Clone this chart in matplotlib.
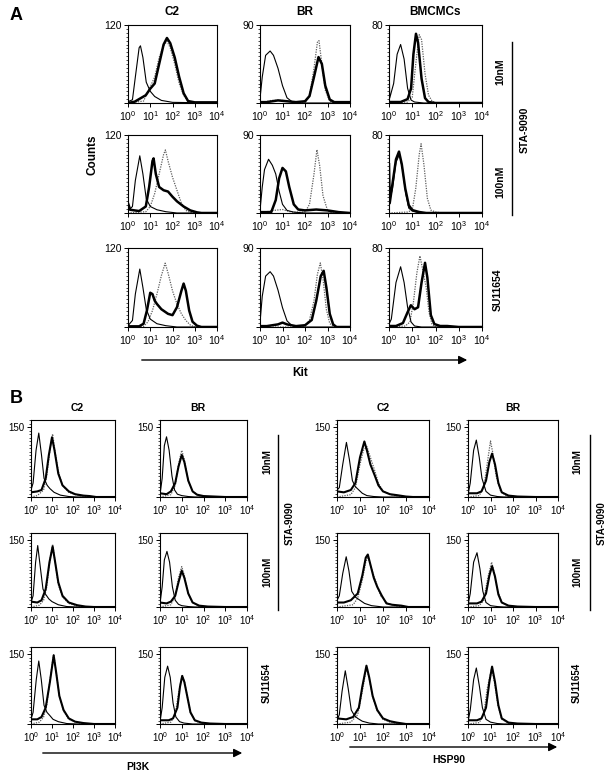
import numpy as np
import matplotlib
matplotlib.use("Agg")
import matplotlib.pyplot as plt
from matplotlib.ticker import LogLocator, NullFormatter, MultipleLocator, FixedLocator
from matplotlib.lines import Line2D
from matplotlib.patches import FancyArrowPatch

plt.rcParams['font.family'] = ['Liberation Sans', 'DejaVu Sans']
plt.rcParams['mathtext.fontset'] = 'custom'
plt.rcParams['mathtext.rm'] = 'Liberation Sans'

# histogram outlines: (log10 fluorescence, counts)
# iso = thin line, ctrl = dotted (untreated), drug = thick (treated)

# ---- A: Kit ----
a_c2_10 = dict(
    iso=[(0,2),(0.2,5),(0.33,40),(0.5,85),(0.56,88),(0.67,70),(0.82,32),(1.0,18),(1.2,10),(1.5,4),(2.0,1),(4,0)],
    ctrl=[(0,0),(0.7,3),(0.9,18),(1.0,25),(1.2,40),(1.4,70),(1.6,88),(1.75,95),(1.9,85),(2.1,60),(2.3,30),(2.5,12),(2.7,3),(3,0),(4,0)],
    drug=[(0,0),(0.3,2),(0.8,12),(1.0,22),(1.2,30),(1.4,60),(1.6,90),(1.75,100),(1.9,92),(2.1,70),(2.3,40),(2.5,15),(2.7,3),(3.0,1),(4,1)])
a_br_10 = dict(
    iso=[(0,5),(0.1,30),(0.25,55),(0.45,60),(0.6,55),(0.8,40),(1.0,20),(1.2,6),(1.4,2),(1.6,0),(4,0)],
    ctrl=[(0,0),(0.5,3),(1.0,3),(1.5,1),(2.0,0),(2.2,8),(2.4,40),(2.55,70),(2.62,72),(2.75,45),(2.9,15),(3.1,2),(3.3,0),(4,0)],
    drug=[(0,1),(0.3,1),(0.8,3),(1.2,2),(1.6,1),(2.0,2),(2.2,8),(2.4,30),(2.6,53),(2.75,45),(2.9,20),(3.1,4),(3.3,1),(4,1)])
a_bm_10 = dict(
    iso=[(0,52),(0.03,5),(0.2,20),(0.35,50),(0.5,60),(0.65,45),(0.8,15),(0.95,3),(1.1,1),(1.5,0),(4,0)],
    ctrl=[(0,0),(0.8,1),(1.0,6),(1.15,40),(1.3,70),(1.4,65),(1.55,30),(1.7,8),(1.85,2),(2,0),(4,0)],
    drug=[(0,1),(0.5,1),(0.8,4),(0.95,15),(1.05,50),(1.16,71),(1.25,62),(1.4,25),(1.55,5),(1.7,1),(2,0),(4,0)])
a_c2_100 = dict(
    iso=[(0,3),(0.2,10),(0.33,50),(0.53,88),(0.67,60),(0.82,22),(1.0,10),(1.3,5),(1.7,2),(2.2,0),(4,0)],
    ctrl=[(0,0),(0.8,2),(1.0,10),(1.2,30),(1.4,60),(1.6,90),(1.68,97),(1.8,80),(2.0,55),(2.2,35),(2.4,15),(2.6,4),(2.8,1),(3,0),(4,0)],
    drug=[(0,15),(0.1,5),(0.5,3),(0.8,10),(0.95,40),(1.1,80),(1.15,84),(1.25,60),(1.4,40),(1.6,35),(1.8,33),(2.0,25),(2.2,18),(2.5,10),(2.8,4),(3.1,1),(3.3,0),(4,0)])
a_br_100 = dict(
    iso=[(0,3),(0.1,30),(0.2,50),(0.38,62),(0.55,55),(0.7,45),(0.85,25),(1.0,10),(1.2,3),(1.5,1),(2,0),(4,0)],
    ctrl=[(0,0),(0.6,3),(1.0,4),(1.4,1),(2.0,1),(2.2,10),(2.4,45),(2.53,73),(2.65,55),(2.8,20),(3.0,3),(3.2,0),(4,0)],
    drug=[(0,1),(0.5,1),(0.7,15),(0.85,40),(1.0,52),(1.15,48),(1.3,30),(1.5,10),(1.7,4),(2.0,3),(2.5,4),(3.0,3),(3.5,1),(4,0)])
a_bm_100 = dict(
    iso=[(0,10),(0.15,25),(0.3,52),(0.45,60),(0.58,45),(0.72,20),(0.85,5),(1.0,2),(1.3,0),(4,0)],
    ctrl=[(0,0),(0.8,1),(1.0,3),(1.15,25),(1.3,60),(1.38,71),(1.5,50),(1.65,15),(1.8,3),(2.0,1),(2.3,0),(4,0)],
    drug=[(0,50),(0.03,10),(0.15,30),(0.3,55),(0.43,63),(0.55,50),(0.7,25),(0.85,8),(1.0,3),(1.3,1),(1.6,0),(4,0)])
a_c2_su = dict(
    iso=[(0,2),(0.2,10),(0.33,50),(0.53,88),(0.67,60),(0.82,27),(1.0,12),(1.3,5),(1.7,2),(2.2,0),(4,0)],
    ctrl=[(0,0),(0.7,1),(0.9,8),(1.1,25),(1.3,50),(1.5,78),(1.67,97),(1.8,82),(2.0,55),(2.2,35),(2.4,20),(2.6,10),(2.8,3),(3.0,0),(4,0)],
    drug=[(0,1),(0.5,1),(0.7,5),(0.85,25),(1.0,52),(1.1,50),(1.2,40),(1.3,35),(1.5,27),(1.8,20),(2.0,18),(2.2,30),(2.4,55),(2.5,66),(2.6,55),(2.75,25),(2.9,8),(3.1,2),(3.3,0),(4,0)])
a_br_su = dict(
    iso=[(0,5),(0.1,35),(0.25,58),(0.45,63),(0.6,58),(0.8,42),(1.0,22),(1.2,7),(1.4,2),(1.6,0),(4,0)],
    ctrl=[(0,0),(1.5,0),(2.0,1),(2.2,8),(2.4,30),(2.55,60),(2.68,73),(2.8,55),(2.95,20),(3.1,4),(3.3,0),(4,0)],
    drug=[(0,1),(0.3,1),(0.8,3),(1.0,5),(1.2,3),(1.6,1),(2.0,2),(2.3,8),(2.5,30),(2.7,58),(2.83,64),(2.95,45),(3.1,15),(3.25,3),(3.4,0),(4,0)])
a_bm_su = dict(
    iso=[(0,3),(0.1,8),(0.3,45),(0.5,61),(0.65,45),(0.8,20),(0.95,5),(1.1,1),(1.4,0),(4,0)],
    ctrl=[(0,0),(0.7,1),(0.9,5),(1.05,25),(1.2,55),(1.33,72),(1.45,58),(1.6,40),(1.72,15),(1.85,3),(2.0,0),(4,0)],
    drug=[(0,1),(0.3,1),(0.6,4),(0.8,15),(0.94,22),(1.1,18),(1.25,20),(1.4,45),(1.55,65),(1.65,50),(1.8,12),(1.95,3),(2.2,1),(2.5,1),(3.0,0),(4,0)])

# ---- B: PI3K (left) and HSP90 (right) ----
b_pi_c2_10 = dict(
    iso=[(0,15),(0.1,30),(0.24,100),(0.37,137),(0.5,90),(0.62,40),(0.77,25),(0.9,18),(1.1,10),(1.4,4),(1.8,1),(2.2,0),(4,0)],
    ctrl=[(0,0),(0.3,3),(0.6,15),(0.75,45),(0.9,100),(1.03,135),(1.15,95),(1.3,55),(1.5,25),(1.8,10),(2.2,4),(2.6,1),(3,0),(4,0)],
    drug=[(0,10),(0.3,12),(0.5,15),(0.7,40),(0.85,90),(1.0,128),(1.12,100),(1.3,50),(1.5,25),(1.8,12),(2.1,6),(2.5,3),(2.8,2),(3.1,0),(4,0)])
b_pi_br_10 = dict(
    iso=[(0,5),(0.1,40),(0.2,110),(0.3,129),(0.42,100),(0.55,45),(0.67,15),(0.8,6),(1.0,3),(1.3,1),(1.6,0),(4,0)],
    ctrl=[(0,0),(0.5,5),(0.7,25),(0.85,70),(1.0,100),(1.12,80),(1.3,35),(1.5,12),(1.8,3),(2.2,0),(4,0)],
    drug=[(0,8),(0.3,6),(0.5,12),(0.7,30),(0.85,65),(1.0,90),(1.12,75),(1.3,35),(1.5,12),(1.7,5),(2.0,2),(2.5,1),(3,0),(4,0)])
b_hs_c2_10 = dict(
    iso=[(0,15),(0.1,20),(0.25,70),(0.41,117),(0.54,80),(0.67,35),(0.8,22),(0.95,15),(1.1,8),(1.3,3),(1.6,1),(2,0),(4,0)],
    ctrl=[(0,0),(0.6,5),(0.8,20),(1.0,70),(1.15,100),(1.3,108),(1.45,85),(1.65,55),(1.8,30),(2.0,12),(2.4,4),(3,0),(4,0)],
    drug=[(0,12),(0.3,10),(0.6,15),(0.8,30),(1.0,85),(1.19,119),(1.3,100),(1.45,70),(1.65,45),(1.8,25),(2.0,12),(2.3,6),(2.6,4),(3.0,1),(3.3,0),(4,0)])
b_hs_br_10 = dict(
    iso=[(0,5),(0.1,30),(0.25,100),(0.37,122),(0.5,85),(0.62,40),(0.8,12),(1.0,4),(1.3,1),(1.6,0),(4,0)],
    ctrl=[(0,0),(0.5,3),(0.7,20),(0.85,70),(1.0,120),(1.1,95),(1.25,45),(1.45,12),(1.7,3),(2,0),(4,0)],
    drug=[(0,8),(0.4,8),(0.6,12),(0.8,35),(0.95,75),(1.07,93),(1.2,70),(1.35,30),(1.5,10),(1.8,3),(2.2,1),(3,0),(4,0)])
b_pi_c2_100 = dict(
    iso=[(0,10),(0.1,25),(0.22,100),(0.32,137),(0.44,90),(0.57,40),(0.7,28),(0.85,18),(1.0,12),(1.3,5),(1.7,1),(2.2,0),(4,0)],
    ctrl=[(0,0),(0.4,4),(0.6,15),(0.75,45),(0.9,105),(1.03,140),(1.15,100),(1.3,50),(1.5,22),(1.8,8),(2.2,2),(2.6,0),(4,0)],
    drug=[(0,12),(0.3,10),(0.5,15),(0.7,40),(0.88,100),(1.03,135),(1.15,100),(1.3,55),(1.5,25),(1.8,10),(2.2,4),(2.6,1),(3,0),(4,0)])
b_pi_br_100 = dict(
    iso=[(0,8),(0.1,45),(0.2,105),(0.32,124),(0.44,100),(0.57,45),(0.7,15),(0.85,6),(1.0,3),(1.3,1),(1.6,0),(4,0)],
    ctrl=[(0,0),(0.5,5),(0.7,25),(0.85,65),(1.0,90),(1.12,70),(1.3,30),(1.5,10),(1.8,2),(2.2,0),(4,0)],
    drug=[(0,10),(0.3,8),(0.5,12),(0.7,25),(0.85,55),(1.0,81),(1.12,65),(1.3,30),(1.5,10),(1.8,3),(2.2,1),(3,0),(4,0)])
b_hs_c2_100 = dict(
    iso=[(0,15),(0.1,25),(0.25,75),(0.4,112),(0.52,80),(0.64,35),(0.8,22),(1.0,15),(1.2,8),(1.5,3),(2,0),(4,0)],
    ctrl=[(0,0),(0.7,5),(0.9,20),(1.1,60),(1.25,100),(1.35,112),(1.5,85),(1.7,55),(1.9,25),(2.2,8),(2.6,2),(3,0),(4,0)],
    drug=[(0,10),(0.3,10),(0.6,15),(0.9,30),(1.1,70),(1.25,110),(1.34,117),(1.45,95),(1.6,65),(1.75,45),(1.95,25),(2.15,8),(2.4,5),(2.8,3),(3.1,0),(4,0)])
b_hs_br_100 = dict(
    iso=[(0,5),(0.1,30),(0.25,100),(0.4,121),(0.53,85),(0.66,35),(0.8,10),(1.0,3),(1.3,1),(1.6,0),(4,0)],
    ctrl=[(0,0),(0.5,3),(0.7,15),(0.88,65),(1.05,100),(1.15,80),(1.3,40),(1.5,10),(1.8,2),(2.1,0),(4,0)],
    drug=[(0,8),(0.4,8),(0.6,12),(0.8,30),(0.95,70),(1.07,91),(1.2,68),(1.35,28),(1.5,10),(1.8,3),(2.2,1),(3,0),(4,0)])
b_pi_c2_su = dict(
    iso=[(0,10),(0.1,25),(0.25,95),(0.37,135),(0.49,95),(0.62,40),(0.76,25),(0.9,18),(1.05,10),(1.3,5),(1.7,1),(2.2,0),(4,0)],
    ctrl=[(0,0),(0.4,4),(0.6,15),(0.75,40),(0.92,100),(1.08,150),(1.2,110),(1.35,60),(1.55,28),(1.8,10),(2.2,3),(2.6,0),(4,0)],
    drug=[(0,10),(0.3,10),(0.5,15),(0.7,35),(0.9,90),(1.08,147),(1.2,110),(1.35,60),(1.55,30),(1.8,12),(2.1,5),(2.5,2),(3,0),(4,0)])
b_pi_br_su = dict(
    iso=[(0,5),(0.1,35),(0.22,100),(0.35,124),(0.47,100),(0.6,45),(0.73,15),(0.9,5),(1.1,2),(1.5,0),(4,0)],
    ctrl=[(0,0),(0.5,4),(0.7,20),(0.85,65),(1.02,105),(1.12,92),(1.25,60),(1.4,25),(1.6,7),(1.9,2),(2.3,0),(4,0)],
    drug=[(0,8),(0.4,8),(0.6,12),(0.8,35),(0.92,80),(1.02,103),(1.12,90),(1.25,60),(1.4,25),(1.6,8),(1.9,3),(2.3,1),(3,0),(4,0)])
b_hs_c2_su = dict(
    iso=[(0,8),(0.1,20),(0.22,70),(0.36,114),(0.49,75),(0.62,30),(0.76,18),(0.9,12),(1.1,6),(1.4,2),(1.8,0),(4,0)],
    ctrl=[(0,0),(0.6,4),(0.9,20),(1.1,70),(1.28,120),(1.4,98),(1.55,58),(1.75,28),(2.0,10),(2.3,4),(2.7,1),(3,0),(4,0)],
    drug=[(0,12),(0.4,10),(0.7,15),(0.95,35),(1.1,80),(1.28,125),(1.4,100),(1.55,60),(1.75,30),(2.0,12),(2.3,6),(2.6,3),(3,0),(4,0)])
b_hs_br_su = dict(
    iso=[(0,5),(0.1,30),(0.25,95),(0.37,120),(0.51,80),(0.64,35),(0.8,10),(1.0,4),(1.3,1),(1.6,0),(4,0)],
    ctrl=[(0,0),(0.5,3),(0.7,20),(0.85,75),(1.05,120),(1.18,88),(1.33,40),(1.5,10),(1.8,2),(2.1,0),(4,0)],
    drug=[(0,8),(0.4,8),(0.6,12),(0.8,35),(0.95,90),(1.07,123),(1.2,90),(1.35,40),(1.5,12),(1.8,3),(2.2,1),(3,0),(4,0)])

a_ymax = {'C2': 120, 'BR': 90, 'BMCMCs': 80}
b_ymax = 150

W, H = 615, 779
fig = plt.figure(figsize=(W / 100, H / 100), dpi=100)


def box(l, t, r, b):
    return [l / W, 1 - b / H, (r - l) / W, (b - t) / H]


def ftext(x, y, s, **kw):
    fig.text(x / W, 1 - y / H, s, ha='center', va='center', **kw)


def arrow(x0, x1, y):
    fig.add_artist(FancyArrowPatch(
        (x0 / W, 1 - y / H), (x1 / W, 1 - y / H), transform=fig.transFigure,
        arrowstyle='-|>,head_length=5,head_width=2.5', color='black', lw=1.0))


def draw(ax, curves, ymax, ytop, fs, thick):
    p = np.array(curves['ctrl'], float)
    ax.plot(10 ** p[:, 0], p[:, 1], color='#5e5e5e', lw=0.9, ls=(0, (1, 1)))
    p = np.array(curves['iso'], float)
    ax.plot(10 ** p[:, 0], p[:, 1], color='black', lw=0.8)
    p = np.array(curves['drug'], float)
    ax.plot(10 ** p[:, 0], p[:, 1], color='black', lw=thick)
    ax.set_xscale('log')
    ax.set_xlim(1, 1e4)
    ax.set_ylim(0, ytop)
    ax.set_xticks([1, 10, 100, 1000, 10000])
    ax.set_xticklabels([r'$\mathregular{10^{%d}}$' % i for i in range(5)])
    ax.xaxis.set_minor_locator(LogLocator(base=10, subs=np.arange(2, 10)))
    ax.xaxis.set_minor_formatter(NullFormatter())
    ax.yaxis.set_major_locator(FixedLocator([0, ymax]))
    ax.set_yticklabels(['', str(ymax)])
    ax.yaxis.set_minor_locator(MultipleLocator(ymax / 20))
    ax.tick_params(which='major', length=3, width=0.7, labelsize=fs, pad=1.5)
    ax.tick_params(which='minor', length=1.5, width=0.5)
    for s in ax.spines.values():
        s.set_linewidth(0.8)


# ---- panel A ----
a_cols = {'C2': (128, 217), 'BR': (260, 350), 'BMCMCs': (389, 482)}
a_rows = [(25, 103), (135, 213), (248, 327)]
a_grid = [[a_c2_10, a_br_10, a_bm_10],
          [a_c2_100, a_br_100, a_bm_100],
          [a_c2_su, a_br_su, a_bm_su]]
for r, (t, b) in enumerate(a_rows):
    for c, name in enumerate(a_cols):
        l, rr = a_cols[name]
        ax = fig.add_axes(box(l, t, rr, b))
        draw(ax, a_grid[r][c], a_ymax[name], a_ymax[name], 7.5, 1.8)

ftext(16, 15, 'A', fontsize=13, fontweight='bold')
ftext(172, 12, 'C2', fontsize=8.5, fontweight='bold')
ftext(305, 12, 'BR', fontsize=8.5, fontweight='bold')
ftext(435, 12, 'BMCMCs', fontsize=8.5, fontweight='bold')
ftext(92, 155, 'Counts', fontsize=8.5, fontweight='bold', rotation=90)
ftext(500, 72, '10nM', fontsize=7.5, fontweight='bold', rotation=90)
ftext(500, 182, '100nM', fontsize=7.5, fontweight='bold', rotation=90)
ftext(525, 130, 'STA-9090', fontsize=7.5, fontweight='bold', rotation=90)
ftext(498, 290, 'SU11654', fontsize=7.5, fontweight='bold', rotation=90)
fig.add_artist(Line2D([512 / W, 512 / W], [1 - 42 / H, 1 - 215 / H], color='black', lw=1.0))
arrow(139, 470, 360)
ftext(300, 373, 'Kit', fontsize=8.5, fontweight='bold')

# ---- panel B ----
b_cols = [(31, 115), (160, 247), (337, 429), (468, 558)]
b_rows = [(420, 497), (533, 607), (647, 724)]
b_grid = [[b_pi_c2_10, b_pi_br_10, b_hs_c2_10, b_hs_br_10],
          [b_pi_c2_100, b_pi_br_100, b_hs_c2_100, b_hs_br_100],
          [b_pi_c2_su, b_pi_br_su, b_hs_c2_su, b_hs_br_su]]
for r, (t, b) in enumerate(b_rows):
    for c, (l, rr) in enumerate(b_cols):
        ax = fig.add_axes(box(l, t, rr, b))
        draw(ax, b_grid[r][c], b_ymax, 165, 7, 1.5)

ftext(16, 398, 'B', fontsize=13, fontweight='bold')
for x, s in [(77, 'C2'), (198, 'BR'), (383, 'C2'), (513, 'BR')]:
    ftext(x, 408, s, fontsize=7.5, fontweight='bold')
for xl, xline, xs in [(267, 278, 290), (577, 590, 602)]:
    ftext(xl, 462, '10nM', fontsize=7, fontweight='bold', rotation=90)
    ftext(xl, 572, '100nM', fontsize=7, fontweight='bold', rotation=90)
    ftext(xs, 523, 'STA-9090', fontsize=7, fontweight='bold', rotation=90)
    ftext(xl, 683, 'SU11654', fontsize=7, fontweight='bold', rotation=90)
    fig.add_artist(Line2D([xline / W, xline / W], [1 - 435 / H, 1 - 610 / H], color='black', lw=1.0))
for x0, x1, y, lab, ly in [(40, 245, 753, 'PI3K', 767), (347, 560, 747, 'HSP90', 760)]:
    arrow(x0, x1, y)
    ftext((x0 + x1) / 2 - 5, ly, lab, fontsize=7.5, fontweight='bold')

fig.savefig('out.png', dpi=100)
